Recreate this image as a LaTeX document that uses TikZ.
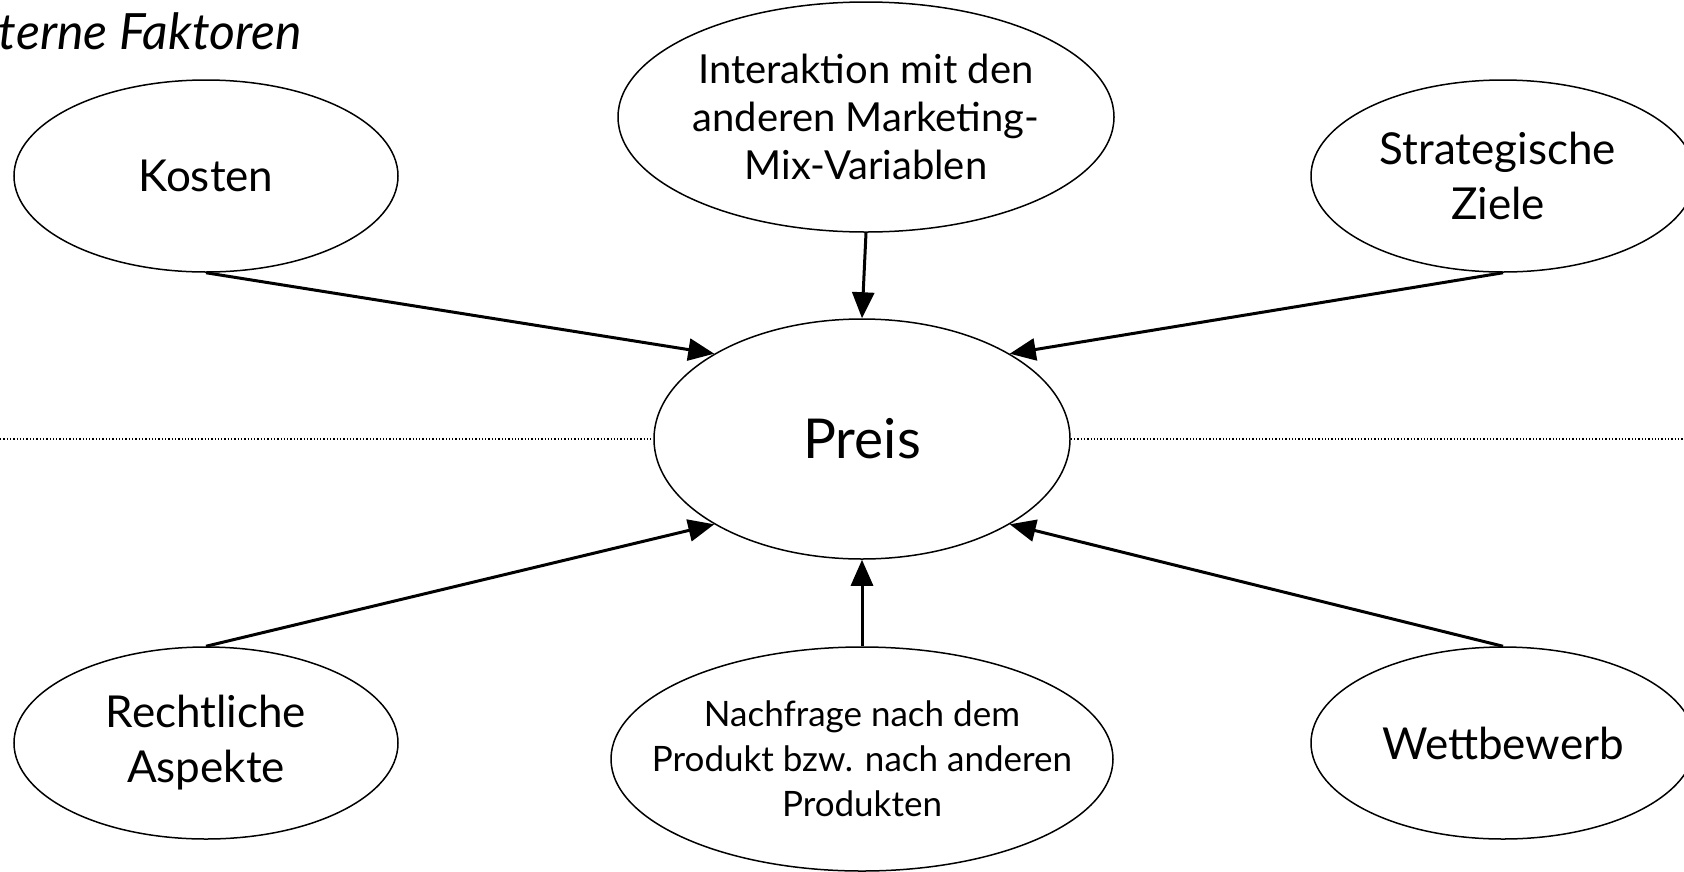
\documentclass[tikz,border=0pt]{standalone}
\usepackage{fontspec}
\setmainfont{Lato}
\usetikzlibrary{shapes.geometric,arrows.meta}
\begin{document}
\begin{tikzpicture}[x=1pt,y=-1pt,
  factor/.style={draw, ellipse, line width=1.5pt, inner sep=0pt},
  lbl/.style={align=center, inner sep=0pt},
  influence/.style={line width=3pt, -{Triangle[length=26pt,width=22pt]}},
  big/.style={font=\fontsize{44}{55}\selectfont},
  mid/.style={font=\fontsize{40}{48}\selectfont},
  small/.style={font=\fontsize{35}{45}\selectfont},
  divider/.style={line width=1.3pt, dotted}]
\useasboundingbox (0,0) rectangle (1684,871);

% heading (runs past the left edge of the page)
\node[anchor=base east, inner sep=0pt, font=\fontsize{50}{60}\selectfont\itshape] (heading) at (302,49) {Interne Faktoren};

% central node
\node[factor, minimum width=416pt, minimum height=240pt] (preis) at (862,439) {};
\node[lbl, font=\fontsize{55}{66}\selectfont] (preistext) at (preis.center) {Preis};

% dotted divider left and right of the price
\coordinate (leftend) at (0,439);
\coordinate (rightend) at (1684,439);
\draw[divider] (leftend) -- (preis.west);
\draw[divider] (preis.east) -- (rightend);

% upper factors
\node[factor, minimum width=384pt, minimum height=192pt] (kosten) at (206,176) {};
\node[lbl, big] (kostentext) at (kosten.center) {Kosten};

\node[factor, minimum width=496pt, minimum height=230pt] (mix) at (866,117) {};
\node[lbl, mid] (mixtext) at (mix.center) {Interaktion mit den\\anderen Marketing-\\Mix-Variablen};

\node[factor, minimum width=384pt, minimum height=192pt] (ziele) at (1503,176) {};
\node[lbl, big] (zieletext) at ([xshift=-5pt]ziele.center) {Strategische\\Ziele};

% lower factors
\node[factor, minimum width=384pt, minimum height=192pt] (recht) at (206,743) {};
\node[lbl, big] (rechttext) at (recht.center) {Rechtliche\\Aspekte};

\node[factor, minimum width=502pt, minimum height=224pt] (nachfrage) at (862,759) {};
\node[lbl, small] (nachfragetext) at (nachfrage.center) {Nachfrage nach dem\\Produkt bzw. nach anderen\\Produkten};

\node[factor, minimum width=384pt, minimum height=192pt] (wettbewerb) at (1503,743) {};
\node[lbl, big] (wettbewerbtext) at (wettbewerb.center) {Wettbewerb};

% influences on the price
\draw[influence] (kosten.south) -- (preis.150);
\draw[influence] (mix.south) -- (preis.north);
\draw[influence] (ziele.south) -- (preis.30);
\draw[influence] (recht.north) -- (preis.210);
\draw[influence] (nachfrage.north) -- (preis.south);
\draw[influence] (wettbewerb.north) -- (preis.330);
\end{tikzpicture}
\end{document}
